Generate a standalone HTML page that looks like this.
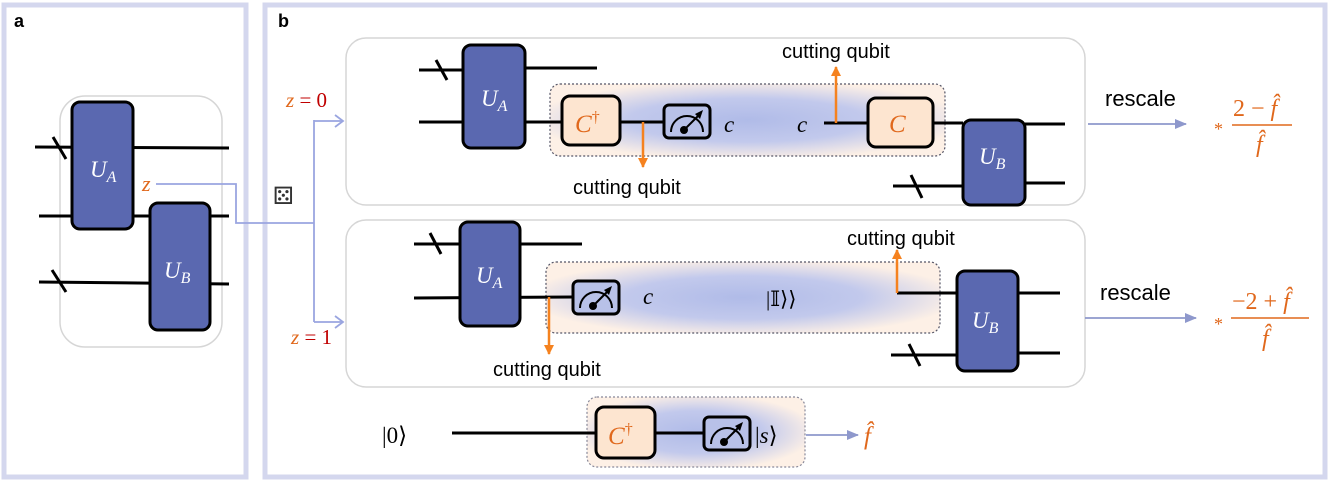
<!DOCTYPE html>
<html><head><meta charset="utf-8"><style>
html,body{margin:0;padding:0;background:#fff}
svg{display:block}
.s{font-family:"Liberation Sans",sans-serif}
.m{font-family:"Liberation Serif","DejaVu Serif",serif;font-style:italic}
.n{font-style:normal}
</style></head><body>
<svg width="1329" height="482" viewBox="0 0 1329 482" xmlns="http://www.w3.org/2000/svg">
<defs>
<radialGradient id="g" cx="0.5" cy="0.5" r="0.55">
<stop offset="0" stop-color="#b0bbe8"/><stop offset="0.55" stop-color="#c2c9ec"/><stop offset="1" stop-color="#fdf0e6"/>
</radialGradient>
<marker id="ab" markerWidth="12" markerHeight="10" refX="11" refY="5" orient="auto" markerUnits="userSpaceOnUse"><path d="M0,0 L12,5 L0,10 z" fill="#8e98cc"/></marker>
<marker id="ao" markerWidth="10" markerHeight="10" refX="9" refY="5" orient="auto" markerUnits="userSpaceOnUse"><path d="M0,0 L10,5 L0,10 z" fill="#f5821f"/></marker>
<g id="meter"><rect x="0" y="0" width="46" height="33" rx="5" fill="#b8c1e8" stroke="#000" stroke-width="3"/><path d="M7,27 A16,16 0 0 1 39,27" fill="none" stroke="#000" stroke-width="2"/><circle cx="20" cy="25" r="4" fill="#000"/><line x1="20" y1="25" x2="36" y2="9" stroke="#000" stroke-width="2"/><path d="M39,5 L31,9 L36,14 z" fill="#000"/></g>
</defs>
<rect x="4" y="5" width="242" height="472" fill="none" stroke="#d4d7ee" stroke-width="5"/>
<rect x="265" y="5" width="1060" height="472" fill="none" stroke="#d4d7ee" stroke-width="5"/>
<text x="14" y="27" class="s" font-weight="bold" font-size="18">a</text>
<text x="278" y="27" class="s" font-weight="bold" font-size="18">b</text>

<!-- panel a -->
<rect x="60" y="96" width="162" height="251" rx="25" fill="none" stroke="#d6d6d6" stroke-width="1.5"/>
<g stroke="#000" stroke-width="3">
<line x1="35" y1="147" x2="229" y2="148"/><line x1="53" y1="137" x2="66" y2="159"/>
<line x1="39" y1="216" x2="229" y2="216"/>
<line x1="39" y1="282" x2="229" y2="284"/><line x1="52" y1="270" x2="66" y2="292"/>
</g>
<rect x="72" y="102" width="61" height="127" rx="8" fill="#5a68b0" stroke="#000" stroke-width="3"/>
<rect x="150" y="203" width="60" height="127" rx="8" fill="#5a68b0" stroke="#000" stroke-width="3"/>
<text x="90" y="177" class="m" fill="#fff" font-size="23">U<tspan font-size="16" dy="5">A</tspan></text>
<text x="164" y="278" class="m" fill="#fff" font-size="23">U<tspan font-size="16" dy="5">B</tspan></text>
<text x="142" y="191" class="m" fill="#e0681c" font-size="22">z</text>
<polyline points="156,184 236,184 236,223 314,223" fill="none" stroke="#9aa5e0" stroke-width="1.8"/>
<line x1="314" y1="120" x2="314" y2="322" stroke="#9aa5e0" stroke-width="1.8"/>
<line x1="314" y1="121" x2="343" y2="121" stroke="#9aa5e0" stroke-width="1.8"/>
<path d="M335,115 L343,121 L335,127" fill="none" stroke="#9aa5e0" stroke-width="1.8"/>
<line x1="314" y1="322" x2="343" y2="322" stroke="#9aa5e0" stroke-width="1.8"/>
<path d="M335,316 L343,322 L335,328" fill="none" stroke="#9aa5e0" stroke-width="1.8"/>
<text x="273" y="204" font-size="24" font-family="DejaVu Sans" fill="#333">⚄</text>
<text x="286" y="107" class="m" font-size="21"><tspan fill="#e0681c">z</tspan><tspan fill="#c00000" class="n"> = 0</tspan></text>
<text x="291" y="344" class="m" font-size="21"><tspan fill="#e0681c">z</tspan><tspan fill="#c00000" class="n"> = 1</tspan></text>

<!-- top box -->
<rect x="346" y="38" width="739" height="167" rx="20" fill="none" stroke="#d6d6d6" stroke-width="1.5"/>
<rect x="550" y="84" width="395" height="72" rx="10" fill="url(#g)" stroke="#556" stroke-width="1.2" stroke-dasharray="2,2"/>
<g stroke="#000" stroke-width="3">
<line x1="419" y1="70" x2="463" y2="70"/><line x1="436" y1="60" x2="447" y2="80"/>
<line x1="525" y1="68" x2="597" y2="68"/>
<line x1="419" y1="122" x2="562" y2="122"/>
<line x1="620" y1="122" x2="663" y2="122"/>
<line x1="824" y1="123" x2="963" y2="123"/>
<line x1="1025" y1="124" x2="1065" y2="124"/>
<line x1="1025" y1="183" x2="1065" y2="183"/>
<line x1="893" y1="186" x2="963" y2="186"/><line x1="911" y1="175" x2="922" y2="198"/>
</g>
<rect x="463" y="45" width="62" height="103" rx="8" fill="#5a68b0" stroke="#000" stroke-width="3"/>
<text x="481" y="106" class="m" fill="#fff" font-size="23">U<tspan font-size="16" dy="5">A</tspan></text>
<rect x="562" y="96" width="58" height="49" rx="8" fill="#fde5d0" stroke="#000" stroke-width="3"/>
<text x="575" y="132" class="m" fill="#e0681c" font-size="25">C<tspan font-size="16" dy="-10" class="n">†</tspan></text>
<use href="#meter" x="664" y="105"/>
<text x="724" y="132" class="m" font-size="23">c</text>
<text x="797" y="132" class="m" font-size="23">c</text>
<rect x="868" y="98" width="65" height="49" rx="8" fill="#fde5d0" stroke="#000" stroke-width="3"/>
<text x="889" y="132" class="m" fill="#e0681c" font-size="25">C</text>
<rect x="963" y="120" width="62" height="85" rx="8" fill="#5a68b0" stroke="#000" stroke-width="3"/>
<text x="979" y="164" class="m" fill="#fff" font-size="23">U<tspan font-size="16" dy="5">B</tspan></text>
<line x1="643" y1="122" x2="643" y2="167" stroke="#f5821f" stroke-width="2.5" marker-end="url(#ao)"/>
<line x1="836" y1="123" x2="836" y2="67" stroke="#f5821f" stroke-width="2.5" marker-end="url(#ao)"/>
<text x="573" y="194" class="s" font-size="20">cutting qubit</text>
<text x="782" y="58" class="s" font-size="20">cutting qubit</text>
<text x="1105" y="106" class="s" font-size="22">rescale</text>
<line x1="1088" y1="124" x2="1186" y2="124" stroke="#8e98cc" stroke-width="1.8" marker-end="url(#ab)"/>
<text x="1214" y="135" class="m n" fill="#e0681c" font-size="18">*</text>
<text x="1233" y="116" class="m n" fill="#e0681c" font-size="24">2 − <tspan font-style="italic">f̂</tspan></text>
<line x1="1232" y1="125" x2="1292" y2="125" stroke="#e0681c" stroke-width="1.5"/>
<text x="1256" y="152" class="m" fill="#e0681c" font-size="24">f̂</text>

<!-- second box -->
<rect x="346" y="220" width="739" height="167" rx="20" fill="none" stroke="#d6d6d6" stroke-width="1.5"/>
<rect x="546" y="262" width="394" height="71" rx="10" fill="url(#g)" stroke="#556" stroke-width="1.2" stroke-dasharray="2,2"/>
<g stroke="#000" stroke-width="3">
<line x1="414" y1="244" x2="460" y2="244"/><line x1="430" y1="233" x2="441" y2="254"/>
<line x1="520" y1="244" x2="582" y2="244"/>
<line x1="414" y1="298" x2="573" y2="297"/>
<line x1="897" y1="293" x2="958" y2="293"/>
<line x1="1018" y1="293" x2="1060" y2="293"/>
<line x1="1018" y1="353" x2="1060" y2="353"/>
<line x1="891" y1="355" x2="958" y2="355"/><line x1="909" y1="344" x2="920" y2="366"/>
</g>
<rect x="460" y="222" width="60" height="104" rx="8" fill="#5a68b0" stroke="#000" stroke-width="3"/>
<text x="476" y="283" class="m" fill="#fff" font-size="23">U<tspan font-size="16" dy="5">A</tspan></text>
<use href="#meter" x="573" y="281"/>
<text x="643" y="304" class="m" font-size="23">c</text>
<text x="766" y="306" class="m n" font-size="21">|𝕀⟩⟩</text>
<rect x="957" y="271" width="61" height="100" rx="8" fill="#5a68b0" stroke="#000" stroke-width="3"/>
<text x="972" y="328" class="m" fill="#fff" font-size="23">U<tspan font-size="16" dy="5">B</tspan></text>
<line x1="549" y1="297" x2="549" y2="354" stroke="#f5821f" stroke-width="2.5" marker-end="url(#ao)"/>
<line x1="897" y1="293" x2="897" y2="250" stroke="#f5821f" stroke-width="2.5" marker-end="url(#ao)"/>
<text x="493" y="376" class="s" font-size="20">cutting qubit</text>
<text x="847" y="245" class="s" font-size="20">cutting qubit</text>
<text x="1100" y="300" class="s" font-size="22">rescale</text>
<line x1="1085" y1="318" x2="1196" y2="318" stroke="#8e98cc" stroke-width="1.8" marker-end="url(#ab)"/>
<text x="1214" y="330" class="m n" fill="#e0681c" font-size="18">*</text>
<text x="1232" y="309" class="m n" fill="#e0681c" font-size="24">−2 + <tspan font-style="italic">f̂</tspan></text>
<line x1="1231" y1="318" x2="1309" y2="318" stroke="#e0681c" stroke-width="1.5"/>
<text x="1262" y="346" class="m" fill="#e0681c" font-size="24">f̂</text>

<!-- bottom -->
<rect x="587" y="397" width="218" height="70" rx="10" fill="url(#g)" stroke="#889" stroke-width="1.2" stroke-dasharray="2,2"/>
<line x1="452" y1="433" x2="596" y2="433" stroke="#000" stroke-width="3"/>
<line x1="655" y1="433" x2="703" y2="433" stroke="#000" stroke-width="3"/>
<text x="382" y="443" class="m n" font-size="23">|0⟩</text>
<rect x="596" y="407" width="59" height="51" rx="8" fill="#fde5d0" stroke="#000" stroke-width="3"/>
<text x="608" y="444" class="m" fill="#e0681c" font-size="25">C<tspan font-size="16" dy="-10" class="n">†</tspan></text>
<use href="#meter" x="704" y="417"/>
<text x="755" y="443" class="m" font-size="23"><tspan class="n">|</tspan>s<tspan class="n">⟩</tspan></text>
<line x1="806" y1="435" x2="858" y2="435" stroke="#8e98cc" stroke-width="1.8" marker-end="url(#ab)"/>
<text x="864" y="444" class="m" fill="#e0681c" font-size="25">f̂</text>
</svg>
</body></html>
